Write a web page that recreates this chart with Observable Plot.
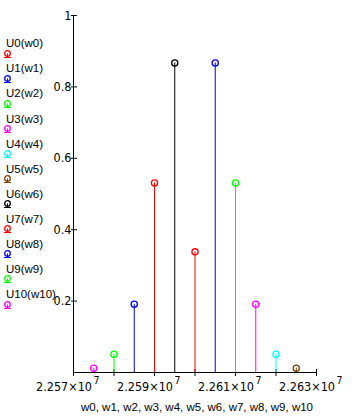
<!DOCTYPE html>
<html><head><meta charset="utf-8">
<script src="https://cdn.jsdelivr.net/npm/d3@7"></script>
<script src="https://cdn.jsdelivr.net/npm/@observablehq/plot@0.6"></script>
<style>
body{margin:0;background:#fff;}
#wrap{position:relative;width:355px;height:419px;}
#legend{position:absolute;left:0;top:0;font-family:"Liberation Sans",Arial,sans-serif;font-size:11.5px;color:#000;}
.item{position:absolute;left:0;white-space:nowrap;}
</style></head><body><div id="wrap"><div id="chart"></div><div id="legend"></div></div>
<script>
const names = ["U0(w0)","U1(w1)","U2(w2)","U3(w3)","U4(w4)","U5(w5)","U6(w6)","U7(w7)","U8(w8)","U9(w9)","U10(w10)"];
const colors = ["#ff0000","#0000ff","#00ff00","#ff00ff","#00ffff","#804000","#000000","#ff0000","#0000ff","#00ff00","#ff00ff"];
const freqs = [2.26e7,2.2605e7,2.261e7,2.2615e7,2.262e7,2.2625e7,2.2595e7,2.259e7,2.2585e7,2.258e7,2.2575e7];
const values = [0.338,0.867,0.531,0.191,0.051,0.012,0.867,0.531,0.191,0.051,0.012];
const xTicks = [2.257e7,2.258e7,2.259e7,2.26e7,2.261e7,2.262e7,2.263e7];
const xLabels = [2.257e7,2.259e7,2.261e7,2.263e7];
const xLabelText = ["2.257×10","2.259×10","2.261×10","2.263×10"];
const xExponent = "7";
const yTicks = [0.2,0.4,0.6,0.8,1];
const yLabels = ["0.2","0.4","0.6","0.8","1"];
const xTitle = "w0, w1, w2, w3, w4, w5, w6, w7, w8, w9, w10";

const data = freqs.map((f,i)=>({f, v: values[i], c: colors[i], n: names[i]}));
const font = '"Liberation Sans", Arial, sans-serif';
const narrow = '"Liberation Sans Narrow", "Arial Narrow", "DejaVu Sans Condensed", sans-serif';

const chart = Plot.plot({
  width:355, height:419, marginLeft:73, marginRight:39, marginTop:15, marginBottom:47,
  x:{domain:[2.257e7,2.263e7]},
  y:{domain:[0,1]},
  color:{type:"identity"},
  style:{fontFamily:font, fontSize:"12px", background:"transparent", color:"#000"},
  marks:[
    Plot.ruleY([0],{stroke:"#000"}),
    Plot.ruleX([2.257e7],{y1:0,y2:1,stroke:"#000"}),
    Plot.axisX({ticks:xTicks, tickSize:7, dy:-3, tickFormat:()=>"", label:null, stroke:"#000"}),
    Plot.axisY({ticks:yTicks, tickSize:6, dx:4, tickFormat:()=>"", label:null, stroke:"#000"}),
    Plot.text(yTicks,{y:d=>d, text:(d,i)=>yLabels[i], frameAnchor:"left", textAnchor:"end", dx:-2, fill:"#000", fontSize:12.5, fontFamily:narrow}),
    Plot.text(xLabels,{x:d=>d, text:(d,i)=>xLabelText[i], frameAnchor:"bottom", textAnchor:"end", dx:18.5, dy:18, fill:"#000", fontSize:12.5, fontFamily:narrow}),
    Plot.text(xLabels,{x:d=>d, text:()=>xExponent, frameAnchor:"bottom", textAnchor:"start", dx:20, dy:11, fontSize:10.5, fill:"#000", fontFamily:narrow}),
    Plot.text([xTitle],{text:d=>d, frameAnchor:"bottom", dy:38, fontSize:11.5, fill:"#000", dx:2}),
    Plot.ruleX(data,{x:"f", y1:0, y2:"v", stroke:"c", strokeWidth:1}),
    Plot.dot(data,{x:"f", y:"v", r:3.1, stroke:"c", fill:"none", strokeWidth:1.3})
  ]
});
document.getElementById("chart").appendChild(chart);

const legend = document.getElementById("legend");
names.forEach((n,i)=>{
  const cy = 43.5 + i*25.1;
  const t = document.createElement("div");
  t.className = "item";
  t.style.left = "6px";
  t.style.top = (cy - 6.3) + "px";
  t.style.lineHeight = "12px";
  t.textContent = n;
  legend.appendChild(t);
  const s = document.createElementNS("http://www.w3.org/2000/svg","svg");
  s.setAttribute("width","12"); s.setAttribute("height","10");
  s.style.position = "absolute"; s.style.left = "2px"; s.style.top = (cy + 6) + "px";
  s.innerHTML = `<circle cx="5.5" cy="3.5" r="2.8" fill="none" stroke="${colors[i]}" stroke-width="1.3"/>`+
    `<line x1="5.5" y1="3.5" x2="5.5" y2="7.5" stroke="${colors[i]}"/>`+
    `<line x1="2" y1="7.5" x2="9" y2="7.5" stroke="${colors[i]}"/>`;
  legend.appendChild(s);
});
</script></body></html>
